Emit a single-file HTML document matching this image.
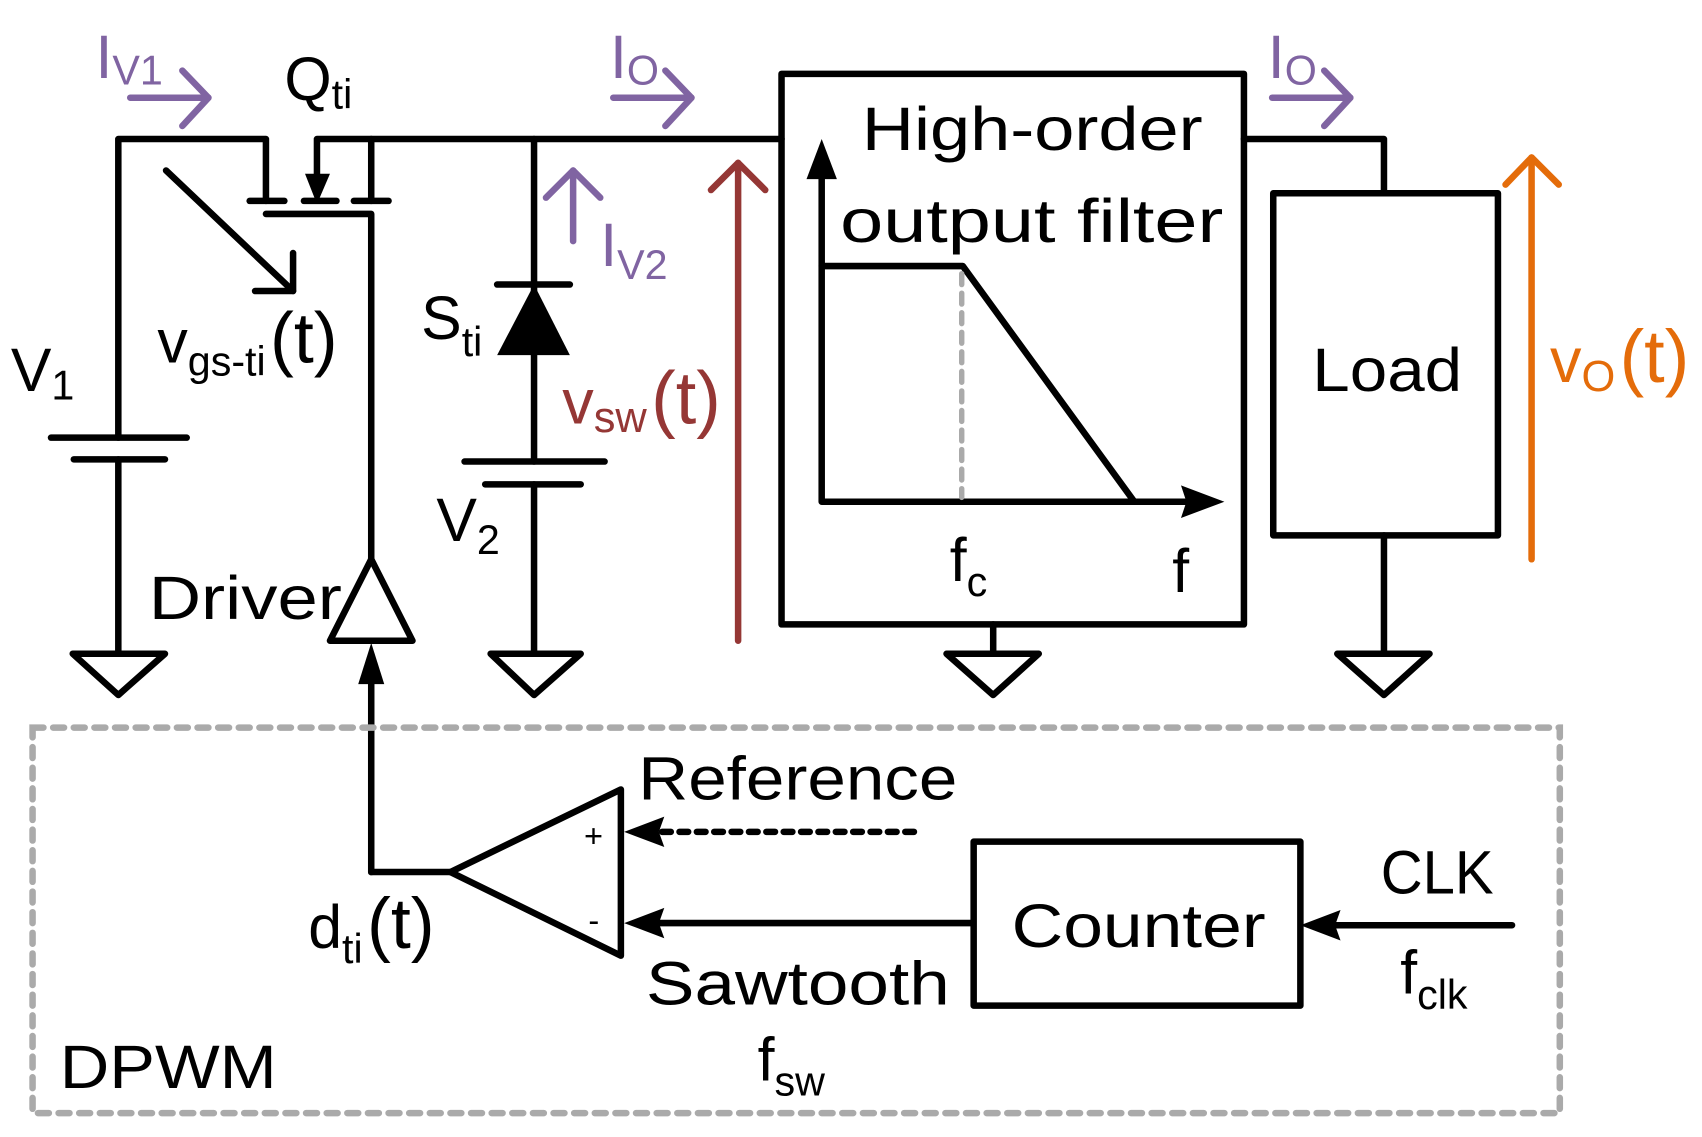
<!DOCTYPE html>
<html><head><meta charset="utf-8"><style>
html,body{margin:0;padding:0;background:#fff;}
svg{display:block;}
text{font-family:"Liberation Sans","DejaVu Sans",sans-serif;}
</style></head><body>
<svg width="1702" height="1137" viewBox="0 0 1568 1047" preserveAspectRatio="none" xmlns="http://www.w3.org/2000/svg">
<g stroke="#000" stroke-width="6" fill="none" stroke-linecap="round" stroke-linejoin="round">
<polyline points="109,600 109,423"/>
<polyline points="109,403 109,128 245,128 245,185"/>
<line x1="47" y1="403" x2="172" y2="403"/>
<line x1="68" y1="423" x2="152" y2="423"/>
<polygon points="67,602 152,602 109,640"/>
<line x1="153" y1="157" x2="270" y2="268"/>
<polyline points="235,268 270,268 270,233"/>
<line x1="230" y1="185" x2="262" y2="185"/>
<line x1="280" y1="185" x2="310" y2="185"/>
<line x1="326" y1="185" x2="358" y2="185"/>
<polyline points="292,165 292,128 720,128"/>
<line x1="342" y1="128" x2="342" y2="185"/>
<polyline points="245,197 342,197 342,515"/>
<polygon points="342,515 380,590 304,590"/>
<line x1="342" y1="803" x2="342" y2="620"/>
<line x1="492" y1="128" x2="492" y2="425"/>
<line x1="458" y1="262" x2="525" y2="262"/>
<line x1="428" y1="425" x2="557" y2="425"/>
<line x1="447" y1="446" x2="535" y2="446"/>
<line x1="492" y1="446" x2="492" y2="600"/>
<polygon points="452,602 535,602 492,640"/>
<rect x="720" y="68" width="426" height="507"/>
<line x1="915" y1="575" x2="915" y2="600"/>
<polygon points="872,602 957,602 915,640"/>
<polyline points="757,165 757,462 1095,462"/>
<polyline points="757,245 887,245 1045,462"/>
<polyline points="1146,128 1275,128 1275,178"/>
<rect x="1173" y="178" width="207" height="315"/>
<line x1="1275" y1="493" x2="1275" y2="600"/>
<polygon points="1232,602 1317,602 1275,640"/>
<polygon points="415,803 572,727 572,880"/>
<line x1="415" y1="803" x2="342" y2="803"/>
<line x1="895" y1="850" x2="605" y2="850"/>
<rect x="897" y="775" width="301" height="151"/>
<line x1="1393" y1="852" x2="1230" y2="852"/>
</g>
<g fill="#000">
<polygon points="281,160 304,160 292,188"/>
<polygon points="342,592 330,630 354,630"/>
<polygon points="458,327 525,327 492,262"/>
<polygon points="757,128 743,165 771,165"/>
<polygon points="1128,462 1088,447 1093,462 1088,477"/>
<polygon points="575,766 612,752 607,766 612,780"/>
<polygon points="575,850 612,836 607,850 612,864"/>
<polygon points="1198,852 1235,838 1230,852 1235,866"/>
</g>
<line x1="610" y1="766" x2="848" y2="766" stroke="#000" stroke-width="6" stroke-dasharray="8,8" stroke-linecap="round"/>
<line x1="886" y1="252" x2="886" y2="458" stroke="#aaa" stroke-width="5" stroke-dasharray="10,8" stroke-linecap="round"/>
<rect x="30" y="670" width="1407" height="355" fill="none" stroke="#aaa" stroke-width="6" stroke-dasharray="10,9" stroke-linecap="round"/>
<g stroke="#8064a2" stroke-width="6" fill="none" stroke-linecap="round" stroke-linejoin="round">
<line x1="120" y1="90" x2="192" y2="90"/><polyline points="168,65 192,90 168,116"/>
<line x1="565" y1="90" x2="637" y2="90"/><polyline points="613,65 637,90 613,116"/>
<line x1="1172" y1="90" x2="1244" y2="90"/><polyline points="1220,65 1244,90 1220,116"/>
<line x1="528" y1="222" x2="528" y2="157"/><polyline points="503,182 528,157 553,182"/>
</g>
<g stroke="#953735" stroke-width="6" fill="none" stroke-linecap="round" stroke-linejoin="round">
<line x1="680" y1="590" x2="680" y2="150"/><polyline points="655,175 680,150 705,175"/>
</g>
<g stroke="#e46c0a" stroke-width="6" fill="none" stroke-linecap="round" stroke-linejoin="round">
<line x1="1411" y1="515" x2="1411" y2="145"/><polyline points="1387,170 1411,145 1436,170"/>
</g>
<g font-size="56" fill="#000">
<text x="794" y="138" textLength="314" lengthAdjust="spacingAndGlyphs">High-order</text>
<text x="774" y="223" textLength="353" lengthAdjust="spacingAndGlyphs">output filter</text>
<text x="1209" y="360" textLength="138" lengthAdjust="spacingAndGlyphs">Load</text>
<text x="137" y="570" textLength="178" lengthAdjust="spacingAndGlyphs">Driver</text>
<text x="932" y="872" textLength="234" lengthAdjust="spacingAndGlyphs">Counter</text>
<text x="588" y="736" textLength="294" lengthAdjust="spacingAndGlyphs">Reference</text>
<text x="595" y="925" textLength="280" lengthAdjust="spacingAndGlyphs">Sawtooth</text>
<text x="1272" y="823" textLength="104" lengthAdjust="spacingAndGlyphs">CLK</text>
<text x="55" y="1002" textLength="200" lengthAdjust="spacingAndGlyphs">DPWM</text>
<text x="10" y="360">V<tspan font-size="38" dy="8">1</tspan></text>
<text x="262" y="92">Q<tspan font-size="38" dy="8">ti</tspan></text>
<text x="145" y="334">v<tspan font-size="38" dy="12">gs-ti</tspan><tspan dy="-12" font-size="66" dx="4">(t)</tspan></text>
<text x="388" y="312">S<tspan font-size="38" dy="16">ti</tspan></text>
<text x="402" y="498">V<tspan font-size="38" dy="12">2</tspan></text>
<text x="284" y="873">d<tspan font-size="38" dy="14">ti</tspan><tspan dy="-14" font-size="66" dx="4">(t)</tspan></text>
<text x="875" y="535">f<tspan font-size="38" dy="14">c</tspan></text>
<text x="1080" y="545">f</text>
<text x="1290" y="915">f<tspan font-size="38" dy="14">clk</tspan></text>
<text x="698" y="995">f<tspan font-size="38" dy="14">sw</tspan></text>
<text x="538" y="780" font-size="30">+</text>
<text x="542" y="858" font-size="30">-</text>
</g>
<g font-size="56" fill="#8064a2">
<text x="88" y="72">I<tspan font-size="38" dy="6">V1</tspan></text>
<text x="562" y="72">I<tspan font-size="38" dy="6">O</tspan></text>
<text x="1168" y="72">I<tspan font-size="38" dy="6">O</tspan></text>
<text x="553" y="245">I<tspan font-size="38" dy="12">V2</tspan></text>
</g>
<text x="518" y="390" font-size="58" fill="#953735">v<tspan font-size="40" dy="8">sw</tspan><tspan dy="-8" font-size="68" dx="4">(t)</tspan></text>
<text x="1428" y="352" font-size="58" fill="#e46c0a">v<tspan font-size="40" dy="8">O</tspan><tspan dy="-8" font-size="68" dx="4">(t)</tspan></text>
</svg>
</body></html>
